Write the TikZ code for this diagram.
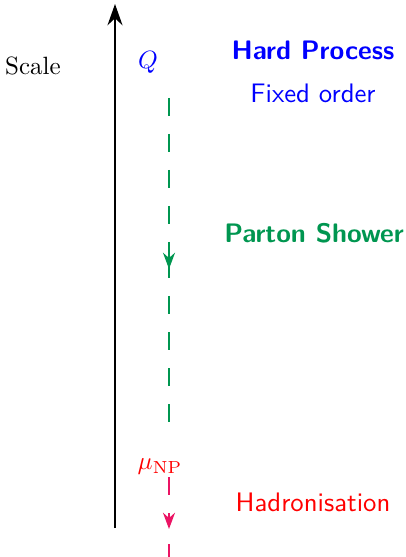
\documentclass[tikz,border=0pt]{standalone}
\usetikzlibrary{arrows.meta}
\definecolor{hardblue}{RGB}{0,0,255}
\definecolor{psgreen}{RGB}{0,150,80}
\definecolor{hadred}{RGB}{255,0,0}
\definecolor{hadpink}{RGB}{235,20,100}
\tikzset{
  axisline/.style={line width=0.8pt, -{Stealth[length=8.5pt,width=6pt]}},
  evol/.style={line width=0.8pt, dash pattern=on 7.2pt off 7.2pt},
  evolarrow/.style={evol, -{Stealth[length=6.5pt,width=4.8pt]}},
  lab/.style={font=\sffamily\fontsize{10.7}{13}\selectfont, inner sep=0pt},
  labb/.style={font=\sffamily\bfseries\fontsize{10.7}{13}\selectfont, inner sep=0pt},
}
\begin{document}
\begin{tikzpicture}[x=0.4pt, y=-0.4pt]
\useasboundingbox (0,0) rectangle (405,557);
% axis
\coordinate (a0) at (115,528);
\coordinate (a1) at (115,4);
\draw[axisline] (a0) -- (a1);
\node[inner sep=0pt] (scale) at (33,66) {Scale};
% labels
\node[inner sep=0pt, text=hardblue] (Q) at (148,62) {$Q$};
\node[labb, text=hardblue] (hp) at (313,50) {Hard Process};
\node[lab, text=hardblue] (fo) at (313,93) {Fixed order};
\node[labb, text=psgreen] (ps) at (314,233) {Parton Shower};
\node[inner sep=0pt, text=hadred] (mu) at (160,467) {$\mu_{\mathrm{NP}}$};
\node[lab, text=hadred] (had) at (313,502) {Hadronisation};
% parton shower
\coordinate (g0) at (169,98);
\coordinate (g1) at (169,269);
\coordinate (g2) at (169,260);
\coordinate (g3) at (169,422);
\draw[evolarrow, psgreen] (g0) -- (g1);
\draw[evol, psgreen] (g2) -- (g3);
% hadronisation
\coordinate (h0) at (169,477);
\coordinate (h1) at (169,529);
\coordinate (h2) at (169,544);
\coordinate (h3) at (169,575);
\draw[evolarrow, hadpink] (h0) -- (h1);
\draw[evol, hadpink] (h2) -- (h3);
\end{tikzpicture}
\end{document}
